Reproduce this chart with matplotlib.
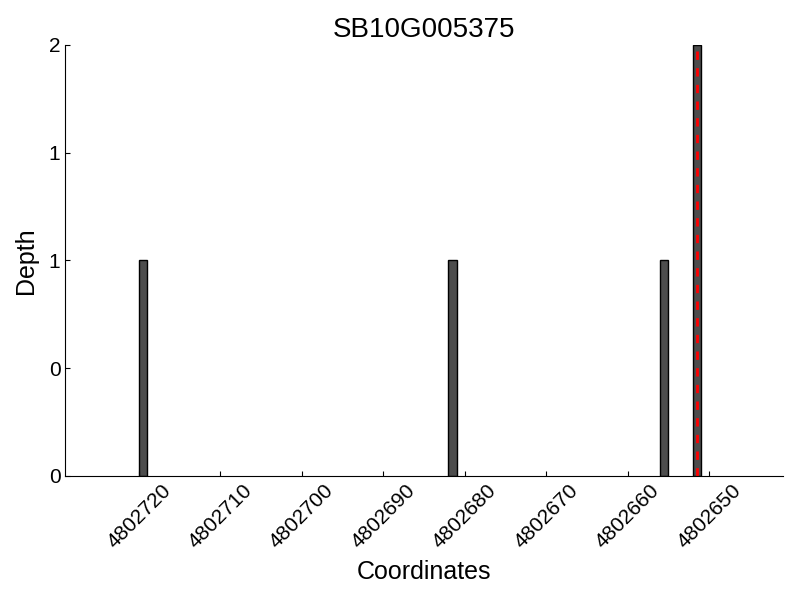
import numpy as np
import matplotlib
matplotlib.use('Agg')
import matplotlib.pyplot as plt
from matplotlib.ticker import FormatStrFormatter

plt.rcParams['font.family'] = ['Liberation Sans', 'DejaVu Sans']

# read depth bars (left edge of each 1bp bin) and depth value
positions = [4802719, 4802681, 4802655, 4802651]
depths = [1, 1, 1, 2]
marker_pos = 4802651.5
xticks = [4802720, 4802710, 4802700, 4802690, 4802680, 4802670, 4802660, 4802650]
yticks = [0, 0.5, 1, 1.5, 2]
gene = 'SB10G005375'

fig = plt.figure(figsize=(8, 6), dpi=100)
ax = fig.add_axes([0.0816, 0.2067, 0.8968, 0.7183])

ax.bar(positions, depths, width=1, align='edge', color='#4d4d4d', edgecolor='black', linewidth=1)
ax.axvline(marker_pos, color='red', linestyle=(0, (3, 3)), linewidth=2)

ax.set_xlim(4802729.05, 4802640.96)
ax.set_ylim(0, 2)

ax.set_xticks(xticks)
ax.set_xticklabels([str(t) for t in xticks], rotation=45)
ax.set_yticks(yticks)
ax.yaxis.set_major_formatter(FormatStrFormatter('%d'))
ax.tick_params(direction='in', labelsize=15)

ax.spines['top'].set_visible(False)
ax.spines['right'].set_visible(False)

ax.set_title(gene, fontsize=20)
ax.set_xlabel('Coordinates', fontsize=18, labelpad=6)
ax.set_ylabel('Depth', fontsize=18, labelpad=8)

fig.savefig('out.png', dpi=100)
